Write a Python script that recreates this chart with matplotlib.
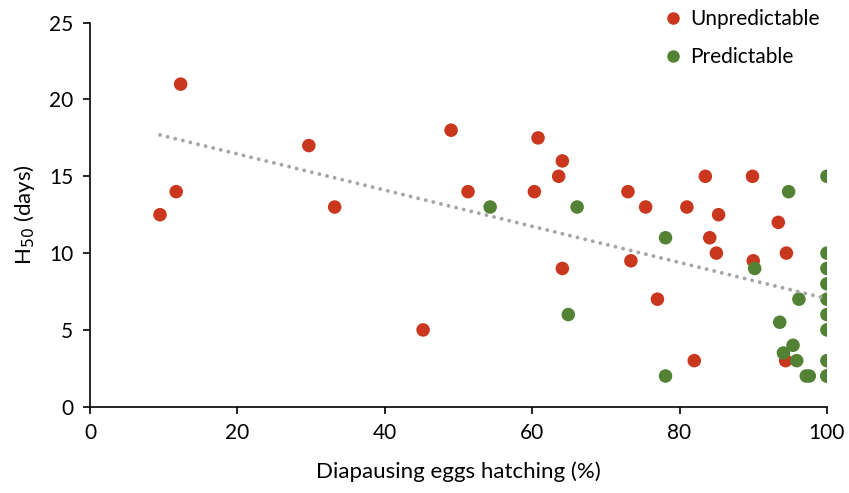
import numpy as np
import matplotlib
matplotlib.use("Agg")
import matplotlib.pyplot as plt
from matplotlib.lines import Line2D

# Diapausing egg hatching (%) and H50 (days) per population
unpred_x = [9.5, 11.7, 12.3, 29.7, 33.2, 45.2, 49.0, 51.3, 60.8, 60.3, 63.6, 64.1,
            64.1, 73.0, 73.4, 75.4, 77.0, 81.0, 82.0, 83.5, 84.1, 85.0, 85.3, 89.9,
            90.0, 93.4, 94.5, 94.4]
unpred_y = [12.5, 14, 21, 17, 13, 5, 18, 14, 17.5, 14, 15, 16,
            9, 14, 9.5, 13, 7, 13, 3, 15, 11, 10, 12.5, 15,
            9.5, 12, 10, 3]

pred_x = [54.3, 66.1, 64.9, 78.1, 78.1, 90.2, 93.6, 94.1, 94.8, 95.4, 95.9, 96.2,
          97.2, 97.6, 100, 100, 100, 100, 100, 100, 100, 100, 100, 100]
pred_y = [13, 13, 6, 11, 2, 9, 5.5, 3.5, 14, 4, 3, 7,
          2, 2, 15, 10, 9, 8, 7, 6, 5, 3, 2, 2]

x_ticks = [0, 20, 40, 60, 80, 100]
y_ticks = [0, 5, 10, 15, 20, 25]

red = "#C9381E"
green = "#548235"
trend_color = "#A6A6A6"

plt.rcParams["font.family"] = ["Lato", "DejaVu Sans"]

fig = plt.figure(figsize=(8.49, 4.93), dpi=100)
ax = fig.add_axes([0.106, 0.175, 0.868, 0.779])

ax.scatter(unpred_x, unpred_y, s=95, color=red, edgecolors="none", zorder=3)
ax.scatter(pred_x, pred_y, s=95, color=green, edgecolors="none", zorder=3)

# Linear trend over all populations
all_x = np.array(unpred_x + pred_x)
all_y = np.array(unpred_y + pred_y)
slope, intercept = np.polyfit(all_x, all_y, 1)
tx = np.array([all_x.min(), all_x.max()])
ax.plot(tx, slope * tx + intercept, linestyle=(0, (0.01, 2.0)), color=trend_color,
        linewidth=2.8, zorder=4, dash_capstyle="round")

ax.set_xlim(0, 100)
ax.set_ylim(0, 25)
ax.set_xticks(x_ticks)
ax.set_yticks(y_ticks)
ax.tick_params(axis="both", direction="out", length=5, width=1.2, labelsize=15,
               colors="black", pad=7)
for side in ("top", "right"):
    ax.spines[side].set_visible(False)
for side in ("left", "bottom"):
    ax.spines[side].set_linewidth(1.2)

ax.set_xlabel("Diapausing eggs hatching (%)", fontsize=16, labelpad=13)
ax.set_ylabel("H$_{50}$ (days)", fontsize=16, labelpad=9)

handles = [
    Line2D([], [], marker="o", linestyle="none", color=red, markersize=8),
    Line2D([], [], marker="o", linestyle="none", color=green, markersize=8),
]
fig.legend(handles, ["Unpredictable", "Predictable"], loc="upper left",
           bbox_to_anchor=(0.758, 1.019), frameon=False, fontsize=15,
           handletextpad=0.35, labelspacing=0.85, handlelength=1.0)

fig.savefig("out.png", dpi=100)
